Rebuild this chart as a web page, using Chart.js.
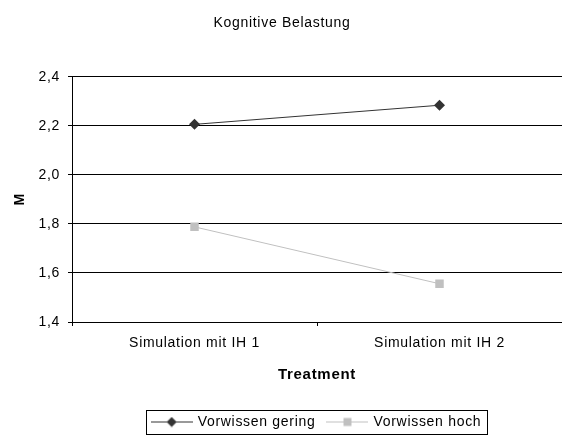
<!DOCTYPE html>
<html>
<head>
<meta charset="utf-8">
<script src="https://cdn.jsdelivr.net/npm/chart.js@4.4.1/dist/chart.umd.min.js"></script>
<style>
  html, body { margin: 0; padding: 0; background: #fff; }
  #wrap { width: 562px; height: 436px; }
</style>
</head>
<body>
<div id="wrap"><canvas id="kogChart" width="562" height="436"></canvas></div>
<script>
const categories = ["Simulation mit IH 1", "Simulation mit IH 2"];
const geringValues = [2.206, 2.284];
const hochValues = [1.788, 1.556];
const seriesNames = ["Vorwissen gering", "Vorwissen hoch"];
const yTicks = [1.4, 1.6, 1.8, 2.0, 2.2, 2.4];

const FONT = "'Liberation Sans', Arial, sans-serif";
const darkCol = "#333333";
const lightCol = "#c0c0c0";
const SPACING = "0.7px";

// kleine Legendensymbole: Linie mit Marker
function legendIcon(color, shape) {
  const c = document.createElement("canvas");
  c.width = 42; c.height = 11;
  const g = c.getContext("2d");
  g.strokeStyle = color;
  g.lineWidth = 1;
  g.beginPath();
  g.moveTo(0, 5.5); g.lineTo(42, 5.5);
  g.stroke();
  g.fillStyle = color;
  if (shape === "diamond") {
    g.beginPath();
    g.moveTo(21, 0.5); g.lineTo(26, 5.5); g.lineTo(21, 10.5); g.lineTo(16, 5.5);
    g.closePath(); g.fill();
  } else {
    g.fillRect(17, 1.5, 8, 8);
  }
  return c;
}
const iconGering = legendIcon(darkCol, "diamond");
const iconHoch = legendIcon(lightCol, "square");

// etwas Zeichenabstand wie im Original
const spacing = {
  id: "spacing",
  beforeLayout(chart) { chart.ctx.letterSpacing = SPACING; },
  beforeDraw(chart) { chart.ctx.letterSpacing = SPACING; },
  afterLayout(chart) {
    // Legende unter dem Diagrammbereich zentrieren
    const lg = chart.legend;
    const ca = chart.chartArea;
    const dx = (ca.left + ca.right) / 2 - (lg.left + lg.right) / 2;
    lg.left += dx; lg.right += dx;
    lg.top += 3; lg.bottom += 3;
  }
};

const legendBorder = {
  id: "legendBorder",
  afterDraw(chart) {
    const boxes = chart.legend && chart.legend.legendHitBoxes;
    if (!boxes || !boxes.length) return;
    let l = Infinity, r = -Infinity, t = Infinity, b = -Infinity;
    boxes.forEach(h => {
      l = Math.min(l, h.left); r = Math.max(r, h.left + h.width);
      t = Math.min(t, h.top); b = Math.max(b, h.top + h.height);
    });
    const ctx = chart.ctx;
    ctx.save();
    ctx.strokeStyle = "#000";
    ctx.lineWidth = 1;
    ctx.strokeRect(Math.round(l - 7) + 0.5, Math.round(t - 5) + 0.5, Math.round(r - l + 12), Math.round(b - t + 10));
    ctx.restore();
  }
};

new Chart(document.getElementById("kogChart"), {
  type: "line",
  data: {
    labels: categories,
    datasets: [
      {
        label: seriesNames[0],
        data: geringValues,
        borderColor: darkCol,
        backgroundColor: darkCol,
        borderWidth: 1,
        pointStyle: "rectRot",
        pointRadius: 5.5,
        pointBorderWidth: 0,
        tension: 0
      },
      {
        label: seriesNames[1],
        data: hochValues,
        borderColor: lightCol,
        backgroundColor: lightCol,
        borderWidth: 1,
        pointStyle: "rect",
        pointRadius: 6,
        pointBorderWidth: 0,
        tension: 0
      }
    ]
  },
  options: {
    responsive: false,
    animation: false,
    devicePixelRatio: 1,
    layout: { autoPadding: false, padding: { top: 0, left: 0, right: -2, bottom: 0 } },
    plugins: {
      title: {
        display: true,
        text: "Kognitive Belastung",
        color: "#000",
        font: { family: FONT, size: 14, weight: "normal" },
        padding: { top: 15, bottom: 45 }
      },
      legend: {
        position: "bottom",
        labels: {
          color: "#000",
          font: { family: FONT, size: 14 },
          usePointStyle: true,
          pointStyleWidth: 38,
          padding: 13,
          generateLabels: () => [
            { text: seriesNames[0], pointStyle: iconGering, fillStyle: darkCol, strokeStyle: darkCol, lineWidth: 0, datasetIndex: 0 },
            { text: seriesNames[1], pointStyle: iconHoch, fillStyle: lightCol, strokeStyle: lightCol, lineWidth: 0, datasetIndex: 1 }
          ]
        }
      },
      tooltip: { enabled: false }
    },
    scales: {
      x: {
        offset: true,
        afterFit: s => { s.height = 77; s.paddingLeft = 0; s.paddingRight = 0; },
        grid: { offset: true, drawOnChartArea: false, drawTicks: true, tickLength: 4, color: "#000" },
        border: { color: "#000" },
        ticks: { color: "#000", font: { family: FONT, size: 14 }, padding: 9, maxRotation: 0 },
        title: {
          display: true,
          text: "Treatment",
          color: "#000",
          font: { family: FONT, size: 15, weight: "bold" },
          padding: { top: 6, bottom: 15 }
        }
      },
      y: {
        min: 1.4,
        max: 2.4,
        afterBuildTicks: s => { s.ticks = yTicks.map(v => ({ value: v })); },
        afterFit: s => { s.width = 72; },
        grid: { color: "#000", tickLength: 4 },
        border: { color: "#000" },
        ticks: {
          color: "#000",
          font: { family: FONT, size: 14 },
          padding: 8,
          callback: v => v.toFixed(1).replace(".", ",")
        },
        title: {
          display: true,
          text: "M",
          color: "#000",
          font: { family: FONT, size: 14, weight: "bold" },
          padding: { top: 12, bottom: 0 }
        }
      }
    }
  },
  plugins: [spacing, legendBorder]
});
</script>
</body>
</html>
